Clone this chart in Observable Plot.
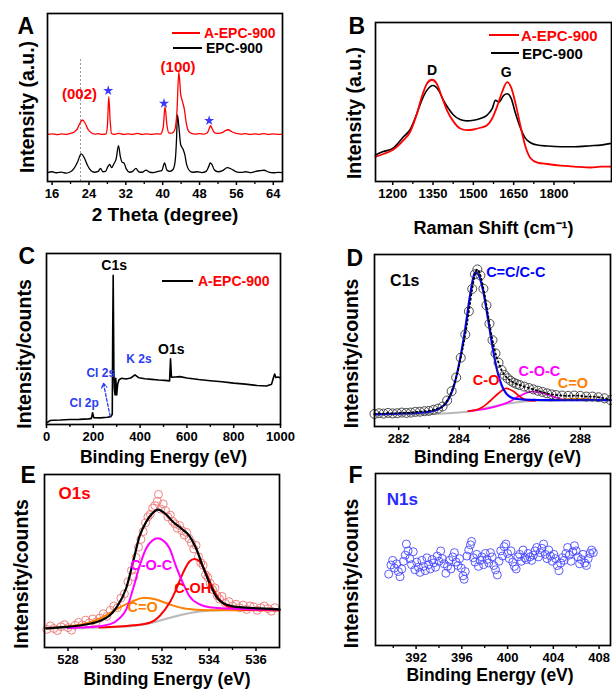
<!DOCTYPE html>
<html><head><meta charset="utf-8">
<script src="https://cdn.jsdelivr.net/npm/d3@7"></script>
<script src="https://cdn.jsdelivr.net/npm/@observablehq/plot@0.6"></script>
<style>
body{margin:0;background:#fff;}
#wrap{position:relative;width:612px;height:690px;overflow:hidden;font-family:"Liberation Sans",Arial,sans-serif;background:#fff;}
.legline{position:absolute;height:2px;}
.legtxt{position:absolute;font-weight:bold;white-space:nowrap;line-height:1;}
</style></head><body><div id="wrap"></div>
<script>
// ---------- Panel A: XRD ----------
const aTicks = [16,24,32,40,48,56,64];
const aMinor = [20,28,36,44,52,60];
const aRed = [[15,28.0],[16,28.4],[17,27.9],[18,28.3],[19,28.0],[20,28.6],[20.8,29.5],[21.5,31.5],[22.0,34.5],[22.6,36.6],[23.2,34.5],[23.8,31],[24.5,29],[25.3,28.2],[26,28.5],[27,28],[27.7,28.3],[28.0,33],[28.3,50.5],[28.6,36],[28.9,28.5],[29.5,28.1],[30.5,28.6],[31.5,28.0],[32.5,28.4],[33.5,28.1],[34.5,28.6],[35.5,28.0],[36.5,28.3],[37.5,28.0],[38.5,28.4],[39.5,28.2],[40.1,32],[40.5,44.6],[40.9,34],[41.3,29],[42,28.8],[42.6,30.5],[43.1,42],[43.5,65.3],[43.9,52],[44.3,47.5],[44.7,43],[45.1,35],[45.6,30],[46.3,28.6],[47,28.2],[48,28.5],[49,28.2],[49.7,29],[50.1,31.5],[50.4,33.2],[50.8,31],[51.3,29],[52,28.6],[53,29.2],[53.6,30.3],[54.2,30.8],[55,29.6],[56,28.6],[57,28.2],[58,28.5],[59,28.0],[60,28.4],[61,28.1],[62,28.5],[63,28.0],[64,28.3],[65,28.0],[66,28.2]];
const aBlack = [[15,5.3],[16,5.8],[17,5.2],[18,5.6],[19,5.0],[20,5.8],[20.8,8],[21.5,11.5],[22.3,16.4],[23,14],[23.7,9.5],[24.4,6.5],[25.2,5.5],[26,6],[26.5,7.8],[27,5.8],[27.6,6],[28.1,8.8],[28.5,10.2],[28.9,8.2],[29.4,10.5],[29.9,13.5],[30.4,21.4],[30.8,15],[31.2,11.5],[31.6,11],[32.1,7.5],[32.8,5.5],[33.5,6],[34.2,7.8],[34.8,5.8],[35.5,5.5],[36.4,6.8],[37.2,5.5],[38,5.3],[39,6],[39.8,6.5],[40.4,11],[40.9,6.8],[41.5,6],[42.2,7],[42.7,12],[43.0,25],[43.2,39.6],[43.5,33],[43.9,22],[44.4,19.4],[44.8,16],[45.2,10],[45.8,6.5],[46.5,5.5],[47.5,5.8],[48.5,5.3],[49.5,6.2],[50.0,9],[50.3,11],[50.7,10],[51.2,7],[52,5.8],[53,6.5],[54,8.3],[55,7.3],[56,5.8],[57,5.4],[58,5.8],[59,5.3],[60,5.9],[61,6.4],[62,6.7],[63,5.6],[64,5.2],[65,5.4],[66,5.3]];
const aRef = [{x:22.16, top:73.3}];
const aStars = [[28.18,54.1],[40.29,46.5],[50.08,36.2]];
const aLabels = [{x:21.95,y:51.9,t:"(002)"},{x:43.34,y:68.3,t:"(100)"}];

// ---------- Panel B: Raman ----------
const bTicks = [1200,1350,1500,1650,1800];
const bMinor = [1275,1425,1575,1725,1875];
const bRed = [[1136,15.6],[1165,17.3],[1200,19.8],[1240,26.0],[1265,31.3],[1290,42.7],[1308,53.1],[1327,61.5],[1346,64.0],[1364,61.5],[1383,53.1],[1402,44.8],[1427,37.5],[1451,33.3],[1476,32.3],[1501,32.7],[1526,33.8],[1551,35.4],[1570,39.6],[1588,46.9],[1607,56.3],[1626,62.5],[1641,59.0],[1657,49.0],[1676,34.4],[1694,21.9],[1713,14.6],[1738,11.9],[1775,11.0],[1825,10.0],[1875,9.4],[1937,8.8],[1974,9.4],[2014,9.4]];
const bBlack = [[1136,16.7],[1165,18.8],[1200,20.8],[1240,28.1],[1265,32.7],[1290,42.7],[1308,51.0],[1327,57.3],[1350,60.4],[1371,57.3],[1389,51.0],[1408,45.8],[1427,41.7],[1451,39.0],[1476,38.1],[1501,38.5],[1526,39.6],[1551,41.7],[1570,45.8],[1582,51.0],[1595,50.0],[1613,54.2],[1626,55.2],[1641,52.1],[1657,42.7],[1676,33.3],[1694,27.1],[1713,24.4],[1738,22.9],[1775,22.3],[1825,21.9],[1875,21.9],[1937,22.5],[1974,22.9],[2014,24.0]];
const bLabels = [{x:1346,y:69.8,t:"D"},{x:1622,y:68.8,t:"G"}];

// ---------- Panel C: XPS survey ----------
const cTicks = [0,200,400,600,800,1000];
const cMinor = [100,300,500,700,900];
const cLine = [[0,1.0],[8,1.6],[15,2.3],[30,2.5],[60,2.6],[100,2.9],[140,3.0],[180,3.3],[192,3.6],[197,6.9],[202,4.0],[230,3.9],[260,4.2],[275,4.6],[281,6],[283,55],[285,87.2],[286.5,60],[288,30],[290,21],[293,17.3],[296,27],[300,17.3],[304,23.5],[310,26.2],[320,27.0],[340,26.6],[360,27.2],[378,29],[395,27.3],[420,26.8],[450,26.4],[480,26.0],[505,25.8],[526,25.5],[530,38.4],[534,27.6],[550,27.8],[570,28.0],[600,27.2],[650,26.3],[700,25.6],[750,25.0],[800,24.2],[850,23.6],[900,22.8],[940,22.5],[962,23.6],[970,27.5],[975,29.5],[980,27.5],[990,27.8],[1000,27.2]];
const cBlackLabels = [{x:289,y:93.1,t:"C1s"},{x:533,y:43.9,t:"O1s"}];
const cBlueLabels = [{x:395,y:38,t:"K 2s"},{x:232,y:30.1,t:"Cl 2s"},{x:161,y:12.4,t:"Cl 2p"}];
const cArrow = [{x1:272,y1:4.9,x2:243,y2:24.2}];

// ---------- Panel D: C1s ----------
const dTicks = [282,284,286,288];
const dMinor = [283,285,287];
const dCirc = [[281.2,7.3],[281.35,7.7],[281.5,7.5],[281.65,7.9],[281.8,7.6],[281.95,7.7],[282.1,8.1],[282.25,7.9],[282.4,8.1],[282.55,8.5],[282.7,8.6],[282.85,8.9],[283.0,9.1],[283.15,9.7],[283.3,10.4],[283.45,11.6],[283.6,15.1],[283.75,20.5],[283.9,28.5],[284.05,40.0],[284.2,53.5],[284.32,67.0],[284.43,80.0],[284.52,88.5],[284.6,91.3],[284.7,87.8],[284.8,80.1],[284.9,70.5],[285.0,59.8],[285.1,50.2],[285.2,42.5],[285.3,37.1],[285.4,32.8],[285.5,29.9],[285.6,28.0],[285.7,26.6],[285.8,25.5],[285.9,24.7],[286.0,24.1],[286.15,23.2],[286.3,22.4],[286.45,21.6],[286.6,20.8],[286.75,20.1],[286.9,19.3],[287.05,18.7],[287.2,18.3],[287.4,18.0],[287.6,17.8],[287.8,18.0],[288.0,17.8],[288.2,17.4],[288.4,17.4],[288.6,17.0],[288.8,16.4],[289.0,15.4]];
const dBlue = [[281.2,7.1],[282.0,7.5],[282.6,7.9],[283.0,8.5],[283.3,10.0],[283.6,14.5],[283.8,22.2],[284.0,36.7],[284.2,56.9],[284.35,75.3],[284.5,88.8],[284.55,89.8],[284.65,87.8],[284.8,78.2],[284.95,62.7],[285.1,46.3],[285.25,32.8],[285.4,24.1],[285.55,19.3],[285.7,17.0],[285.9,16.0],[286.2,15.6],[286.6,15.4],[287.0,15.3],[287.6,15.3],[288.2,15.3],[289.0,15.3]];
const dGrey = [[281.2,6.8],[282.5,7.1],[283.5,7.5],[284.0,8.1],[284.5,9.3],[285.0,11.2],[285.5,13.1],[286.0,14.3],[286.5,14.9],[287.0,15.1],[288.0,15.3],[289.0,15.4]];
const dRed = [[284.3,8.9],[284.7,10.6],[285.0,14.5],[285.3,19.3],[285.55,22.2],[285.8,20.3],[286.0,17.4],[286.2,15.4],[286.5,14.9]];
const dMag = [[284.3,8.9],[284.6,9.5],[285.2,11.6],[285.6,13.9],[286.0,17.8],[286.4,20.3],[286.8,19.3],[287.1,17.4],[287.4,15.8],[287.8,15.3]];
const dOrange = [[287.0,15.1],[287.4,15.6],[287.8,16.2],[288.2,16.0],[288.6,15.6],[289.0,15.4]];
const dLabels = [
  {x:284.89,y:27.0,t:"C-O",c:"#ff0000"},
  {x:286.65,y:31.9,t:"C-O-C",c:"#ff00ff"},
  {x:287.76,y:25.1,t:"C=O",c:"#ff8000"}
];
const dMain = [{x:284.89,y:89.8,t:"C=C/C-C"}];
const dTitle = [{x:282.2,y:84.9,t:"C1s"}];

// ---------- Panel E: O1s ----------
const eTicks = [528,530,532,534,536];
const eMinor = [529,531,533,535];
const eCirc = [[527.1,10.5],[527.25,12.5],[527.4,11.0],[527.55,9.8],[527.7,12.0],[527.85,13.2],[528.0,11.5],[528.15,10.0],[528.3,12.8],[528.45,14.5],[528.6,13.0],[528.75,15.8],[528.9,14.2],[529.05,16.5],[529.2,14.8],[529.35,17.0],[529.5,19.5],[529.65,18.0],[529.8,21.5],[529.95,24.0],[530.1,23.0],[530.25,28.5],[530.4,31.0],[530.55,38.0],[530.7,44.5],[530.8,41.0],[530.9,52.0],[531.0,58.0],[531.1,62.5],[531.2,67.0],[531.3,72.0],[531.4,75.5],[531.5,77.0],[531.6,80.5],[531.7,82.0],[531.8,84.5],[531.85,88.5],[531.95,80.0],[532.05,83.0],[532.15,79.0],[532.25,75.5],[532.35,76.5],[532.45,73.0],[532.55,71.5],[532.65,69.0],[532.75,70.5],[532.85,67.5],[532.95,65.0],[533.05,66.5],[533.15,63.0],[533.25,60.5],[533.35,57.0],[533.45,59.0],[533.55,52.5],[533.65,49.0],[533.75,47.5],[533.85,42.0],[533.95,40.5],[534.05,37.0],[534.15,33.5],[534.25,34.5],[534.35,30.0],[534.45,28.0],[534.55,29.5],[534.7,25.5],[534.85,26.5],[535.0,24.0],[535.15,25.0],[535.3,23.0],[535.45,24.5],[535.6,22.0],[535.75,24.0],[535.9,23.5],[536.05,21.5],[536.2,23.0],[536.35,24.0],[536.5,22.5],[536.65,21.0],[536.8,23.0]];
const eBlack = [[527.07,11.1],[527.92,11.9],[528.63,13.0],[529.34,15.3],[529.77,18.5],[530.05,22.9],[530.48,34.4],[530.76,48.8],[531.04,64.1],[531.33,72.7],[531.61,77.8],[531.82,79.7],[532.18,76.9],[532.46,72.7],[532.82,68.8],[533.17,64.4],[533.45,57.4],[533.74,46.8],[534.02,37.3],[534.30,29.6],[534.73,24.9],[535.30,23.3],[536.15,22.6],[537,22.0]];
const eMag = [[528.0,11.2],[529.0,11.8],[529.8,13.5],[530.2,17.0],[530.48,22.0],[530.76,33.5],[531.04,46.8],[531.33,57.4],[531.61,62.1],[531.82,63.1],[532.03,62.1],[532.32,57.4],[532.6,46.8],[532.89,37.3],[533.17,29.6],[533.6,24.9],[534.02,23.3],[534.73,22.6],[535.72,22.0],[537,22.0]];
const eRed = [[529.34,11.5],[530.76,12.8],[531.47,14.3],[531.9,18.2],[532.32,25.8],[532.6,33.5],[532.89,43.0],[533.17,49.7],[533.38,51.1],[533.6,49.7],[533.88,43.0],[534.16,34.4],[534.45,27.7],[534.87,23.3],[535.43,22.0],[537,21.6]];
const eOrange = [[527.07,11.1],[528.63,13.4],[529.34,16.6],[530.05,22.0],[530.76,26.8],[531.26,28.7],[531.75,27.7],[532.32,24.9],[533.03,22.4],[533.88,21.6],[535,21.6],[537,21.6]];
const eGrey = [[527.07,11.1],[529.34,11.5],[530.76,12.4],[531.47,14.0],[532.18,16.6],[532.89,19.1],[533.6,20.8],[534.3,21.6],[535,22.0],[537,22.0]];
const eLabels = [
  {x:531.54,y:47.2,t:"C-O-C",c:"#ff00ff"},
  {x:533.31,y:34.4,t:"C-OH",c:"#ff0000"},
  {x:531.18,y:23.3,t:"C=O",c:"#ff8000"}
];
const eTitle = [{x:528.28,y:88.9,t:"O1s"}];

// ---------- Panel F: N1s ----------
const fTicks = [392,396,400,404,408];
const fMinor = [390,394,398,402,406];
const fCirc = [[389.6,41.5],[389.8,46.8],[389.95,49.5],[390.1,45.0],[390.3,47.5],[390.45,43.0],[390.6,40.0],[390.75,44.5],[390.9,49.0],[391.05,52.5],[391.15,59.0],[391.3,55.0],[391.45,50.5],[391.6,47.0],[391.75,54.5],[391.9,44.0],[392.05,48.5],[392.2,45.5],[392.35,42.5],[392.5,49.5],[392.65,46.0],[392.8,43.5],[392.95,51.0],[393.1,47.0],[393.25,44.5],[393.4,50.0],[393.55,48.0],[393.7,45.5],[393.85,52.0],[394.0,49.0],[394.15,55.0],[394.3,50.5],[394.45,47.5],[394.6,42.0],[394.75,46.0],[394.9,49.5],[395.05,44.5],[395.2,51.5],[395.35,54.0],[395.5,48.5],[395.65,46.5],[395.8,50.5],[395.95,45.0],[396.1,40.5],[396.2,38.5],[396.3,43.0],[396.45,52.0],[396.6,55.5],[396.75,58.5],[396.85,60.5],[397.0,51.0],[397.15,48.5],[397.3,53.0],[397.45,46.0],[397.6,49.5],[397.75,51.5],[397.9,47.0],[398.05,53.5],[398.2,50.0],[398.35,48.0],[398.5,54.0],[398.65,51.5],[398.8,46.5],[398.95,44.0],[399.1,41.0],[399.25,49.0],[399.4,55.0],[399.55,52.0],[399.7,57.5],[399.85,59.0],[400.0,53.5],[400.15,50.5],[400.3,55.0],[400.45,48.5],[400.6,46.0],[400.75,44.5],[400.9,51.5],[401.05,53.0],[401.2,49.0],[401.35,55.5],[401.5,51.0],[401.65,50.0],[401.8,53.5],[401.95,51.5],[402.1,49.5],[402.25,52.5],[402.4,55.0],[402.55,57.0],[402.7,51.5],[402.85,54.0],[403.0,56.5],[403.15,59.0],[403.3,53.0],[403.45,50.5],[403.6,55.5],[403.75,52.0],[403.9,49.0],[404.05,53.0],[404.2,50.5],[404.35,46.5],[404.5,43.5],[404.65,48.0],[404.8,51.0],[404.95,49.5],[405.1,53.5],[405.25,57.0],[405.4,52.5],[405.55,49.0],[405.7,54.5],[405.85,58.0],[406.0,55.0],[406.15,51.5],[406.3,47.5],[406.45,50.0],[406.6,53.0],[406.75,48.0],[406.9,46.5],[407.05,50.5],[407.2,53.5],[407.35,55.5],[407.5,54.0]];
const fTitle = [{x:390.8,y:84.9,t:"N1s"}];

// ---------- rendering ----------
const wrap = document.getElementById("wrap");
const FONT = "'Liberation Sans', Arial, sans-serif";
const px = d => d[0], py = d => d[1];
const ln = (data, stroke, sw, extra={}) => Plot.line(data, {x: px, y: py, stroke, strokeWidth: sw, curve: "monotone-x", ...extra});
const label = (s, o) => Plot.text([s], {text: d => d, fontWeight: "bold", fill: "black", ...o});

function panel({left, top, m, xDomain, majors, minors, letter, ltr, yTitle, yt, xTitle, xt, marks}) {
  const svg = Plot.plot({
    width: 306, height: 230,
    marginLeft: m[0], marginTop: m[1], marginRight: m[2], marginBottom: m[3],
    x: {domain: xDomain},
    y: {domain: [0, 100], axis: null},
    style: {background: "transparent", overflow: "visible", fontFamily: FONT, color: "black"},
    marks: [
      ...marks,
      Plot.axisX({ticks: minors, tickSize: 3, tickFormat: () => "", strokeWidth: 1.3, label: null}),
      Plot.axisX({ticks: majors, tickSize: 4, tickPadding: 3, tickFormat: d => String(d), fontSize: 13, fontWeight: "bold", strokeWidth: 1.5, label: null}),
      Plot.frame({stroke: "black", strokeWidth: 1.7}),
      label(letter, {frameAnchor: "top-left", textAnchor: "start", lineAnchor: "bottom", fontSize: 23, dx: ltr[0], dy: ltr[1]}),
      label(yTitle, {frameAnchor: "left", textAnchor: "middle", rotate: -90, lineAnchor: "middle", fontSize: 19.5, dx: yt[0], dy: yt[1]}),
      label(xTitle, {frameAnchor: "bottom", textAnchor: "middle", lineAnchor: "middle", fontSize: xt[2], dx: xt[0], dy: xt[1]})
    ]
  });
  svg.style.position = "absolute";
  svg.style.left = left + "px";
  svg.style.top = top + "px";
  wrap.appendChild(svg);
}

function legend(x1, x2, y, lineColor, text, tx, fs, textColor) {
  const l = document.createElement("div");
  l.className = "legline";
  Object.assign(l.style, {left: x1 + "px", top: (y - 1) + "px", width: (x2 - x1) + "px", background: lineColor});
  wrap.appendChild(l);
  const t = document.createElement("div");
  t.className = "legtxt";
  t.textContent = text;
  Object.assign(t.style, {left: tx + "px", top: (y - 0.49 * fs) + "px", fontSize: fs + "px", color: textColor});
  wrap.appendChild(t);
}

// A
panel({left: 0, top: 0, m: [47, 13, 24, 49], xDomain: [15, 66], majors: aTicks, minors: aMinor,
  letter: "A", ltr: [-30, 20], yTitle: "Intensity (a.u.)", yt: [-20, 9.5], xTitle: "2 Theta (degree)", xt: [0, 33, 19],
  marks: [
    Plot.ruleX(aRef, {x: "x", y1: 0, y2: "top", stroke: "#999", strokeDasharray: "2,2", strokeWidth: 1}),
    ln(aBlack, "black", 1.3),
    ln(aRed, "#ff0000", 1.3),
    Plot.dot(aStars, {x: px, y: py, symbol: "star", r: 3.2, fill: "#3a3aff", stroke: null}),
    Plot.text(aLabels, {x: "x", y: "y", text: "t", fill: "#ff0000", fontSize: 15, fontWeight: "bold"})
  ]});

// B
panel({left: 306, top: 0, m: [69, 22, 1, 49], xDomain: [1136, 2014], majors: bTicks, minors: bMinor,
  letter: "B", ltr: [-27, 11], yTitle: "Intensity (a.u.)", yt: [-21, 11], xTitle: "Raman Shift (cm\u207B\u00B9)", xt: [0, 46.5, 18],
  marks: [
    ln(bBlack, "black", 1.6),
    ln(bRed, "#ff0000", 1.8),
    Plot.text(bLabels, {x: "x", y: "y", text: "t", fill: "black", fontSize: 14, fontWeight: "bold"})
  ]});

// C
panel({left: 0, top: 230, m: [46, 23, 26, 36], xDomain: [0, 1000], majors: cTicks, minors: cMinor,
  letter: "C", ltr: [-28, 10], yTitle: "Intensity/counts", yt: [-22, 15], xTitle: "Binding Energy (eV)", xt: [0, 33, 17.5],
  marks: [
    ln(cLine, "black", 1.6, {curve: "linear"}),
    Plot.arrow(cArrow, {x1: "x1", y1: "y1", x2: "x2", y2: "y2", stroke: "#2a3cf0", strokeWidth: 1.3, strokeDasharray: "3,2", headLength: 6}),
    Plot.text(cBlackLabels, {x: "x", y: "y", text: "t", fill: "black", fontSize: 14, fontWeight: "bold"}),
    Plot.text(cBlueLabels, {x: "x", y: "y", text: "t", fill: "#2a3cf0", fontSize: 12, fontWeight: "bold"})
  ]});

// D
panel({left: 306, top: 230, m: [68, 24, 2, 34], xDomain: [281.2, 289], majors: dTicks, minors: dMinor,
  letter: "D", ltr: [-28, 11], yTitle: "Intensity/counts", yt: [-23, 13], xTitle: "Binding Energy (eV)", xt: [5, 31, 17.5],
  marks: [
    ln(dGrey, "#b8b8b8", 2),
    ln(dMag, "#ff00ff", 1.8),
    ln(dOrange, "#ff8000", 1.8),
    ln(dRed, "#ff0000", 1.8),
    ln(dBlue, "#0000ff", 2.2),
    Plot.dot(dCirc, {x: px, y: py, r: 4.5, stroke: "#3a3a3a", strokeWidth: 0.9, fill: "none"}),
    ln(dCirc, "black", 1.8, {strokeDasharray: "1.2,3"}),
    Plot.text(dTitle, {x: "x", y: "y", text: "t", fill: "black", fontSize: 16, fontWeight: "bold"}),
    Plot.text(dMain, {x: "x", y: "y", text: "t", fill: "#0000ff", fontSize: 14.5, fontWeight: "bold", textAnchor: "start"}),
    Plot.text(dLabels, {x: "x", y: "y", text: "t", fill: "c", fontSize: 14.5, fontWeight: "bold"})
  ]});

// E
panel({left: 0, top: 460, m: [44, 14, 27, 43], xDomain: [527, 537], majors: eTicks, minors: eMinor,
  letter: "E", ltr: [-24, 8], yTitle: "Intensity/counts", yt: [-22.5, 13], xTitle: "Binding Energy (eV)", xt: [5, 32, 17.5],
  marks: [
    Plot.dot(eCirc, {x: px, y: py, r: 4, stroke: "#f08080", strokeWidth: 1, fill: "none"}),
    ln(eGrey, "#b8b8b8", 2),
    ln(eOrange, "#ff8000", 2),
    ln(eRed, "#ff0000", 2),
    ln(eMag, "#ff00ff", 2),
    ln(eBlack, "black", 2.2),
    Plot.text(eTitle, {x: "x", y: "y", text: "t", fill: "#ff0000", fontSize: 17, fontWeight: "bold"}),
    Plot.text(eLabels, {x: "x", y: "y", text: "t", fill: "c", fontSize: 14.5, fontWeight: "bold"})
  ]});

// F
panel({left: 306, top: 460, m: [69, 13, 2, 45], xDomain: [388.45, 409], majors: fTicks, minors: fMinor,
  letter: "F", ltr: [-27, 9], yTitle: "Intensity/counts", yt: [-24, 14], xTitle: "Binding Energy (eV)", xt: [-3, 29.5, 17.5],
  marks: [
    Plot.dot(fCirc, {x: px, y: py, r: 4, stroke: "#4a4aff", strokeWidth: 0.9, fill: "none"}),
    Plot.text(fTitle, {x: "x", y: "y", text: "t", fill: "#2a2aff", fontSize: 17, fontWeight: "bold"})
  ]});

// legends (drawn over the plots)
legend(172, 200, 33, "#ff0000", "A-EPC-900", 204, 14, "#ff0000");
legend(173, 202, 48, "black", "EPC-900", 206, 14, "black");
legend(489, 519, 35, "#ff0000", "A-EPC-900", 521, 15, "#ff0000");
legend(491, 519, 53, "black", "EPC-900", 522, 15, "black");
legend(162, 193, 281, "black", "A-EPC-900", 198, 14, "#ff0000");
</script>
</body></html>
